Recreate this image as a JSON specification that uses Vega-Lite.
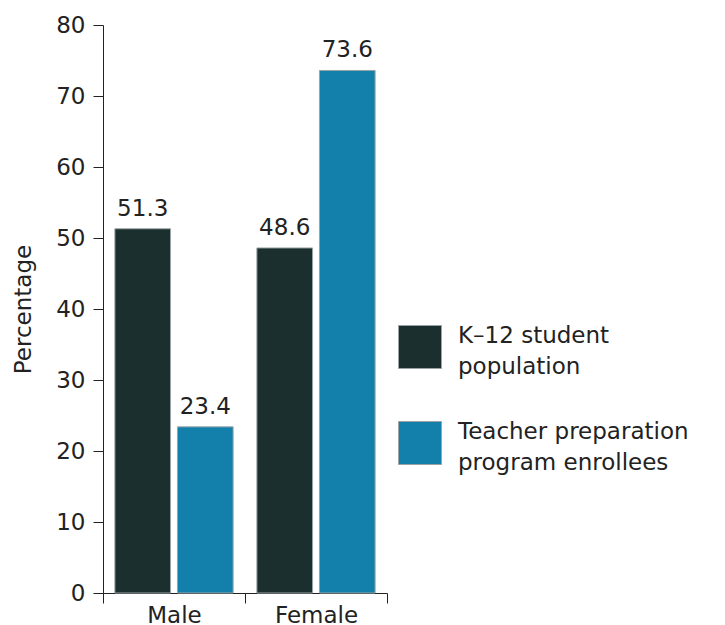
{
  "$schema": "https://vega.github.io/schema/vega-lite/v6.json",
  "width": 284,
  "height": 568,
  "autosize": {"type": "none"},
  "padding": {"left": 103, "top": 25, "right": 338, "bottom": 32},
  "background": "white",
  "config": {
    "font": "DejaVu Sans",
    "view": {"stroke": null},
    "axis": {
      "domainColor": "#222222",
      "tickColor": "#222222",
      "labelColor": "#222222",
      "titleColor": "#222222",
      "labelFontSize": 23,
      "titleFontSize": 23,
      "labelFontWeight": "normal",
      "titleFontWeight": "normal",
      "tickSize": 10,
      "grid": false
    }
  },
  "data": {
    "values": [
      {"gender": "Male", "group": "K\u201312 student|population", "value": 51.3},
      {"gender": "Male", "group": "Teacher preparation|program enrollees", "value": 23.4},
      {"gender": "Female", "group": "K\u201312 student|population", "value": 48.6},
      {"gender": "Female", "group": "Teacher preparation|program enrollees", "value": 73.6}
    ]
  },
  "encoding": {
    "x": {
      "field": "gender",
      "type": "nominal",
      "sort": ["Male", "Female"],
      "scale": {"paddingInner": 0, "paddingOuter": 0},
      "axis": {"title": null, "labelAngle": 0, "tickBand": "extent", "labelPadding": 1}
    },
    "xOffset": {
      "field": "group",
      "type": "nominal",
      "sort": ["K\u201312 student|population", "Teacher preparation|program enrollees"],
      "scale": {"paddingInner": 0.11, "paddingOuter": 0.19}
    },
    "y": {
      "field": "value",
      "type": "quantitative",
      "scale": {"domain": [0, 80], "nice": false},
      "axis": {
        "title": "Percentage",
        "values": [0, 10, 20, 30, 40, 50, 60, 70, 80],
        "labelPadding": 8,
        "titlePadding": 20
      }
    }
  },
  "layer": [
    {
      "mark": {"type": "bar", "stroke": "#9aa4a6", "strokeWidth": 1},
      "encoding": {
        "color": {
          "field": "group",
          "type": "nominal",
          "sort": ["K\u201312 student|population", "Teacher preparation|program enrollees"],
          "scale": {"range": ["#1b302e", "#1280ab"]},
          "legend": {
            "title": null,
            "orient": "none",
            "legendX": 295,
            "legendY": 300,
            "symbolType": "square",
            "symbolSize": 1849,
            "symbolStrokeColor": "#9aa4a6",
            "symbolStrokeWidth": 1,
            "symbolOpacity": 1,
            "labelFontSize": 23,
            "labelColor": "#222222",
            "labelLimit": 400,
            "labelOffset": 16,
            "rowPadding": 40,
            "labelExpr": "split(datum.label, '|')",
            "encode": {"labels": {"update": {"lineHeight": {"value": 31}, "dy": {"value": -11}}}}
          }
        }
      }
    },
    {
      "mark": {"type": "text", "baseline": "alphabetic", "dy": -13, "fontSize": 23, "color": "#222222"},
      "encoding": {
        "text": {"field": "value", "type": "quantitative", "format": ".1f"}
      }
    }
  ]
}
